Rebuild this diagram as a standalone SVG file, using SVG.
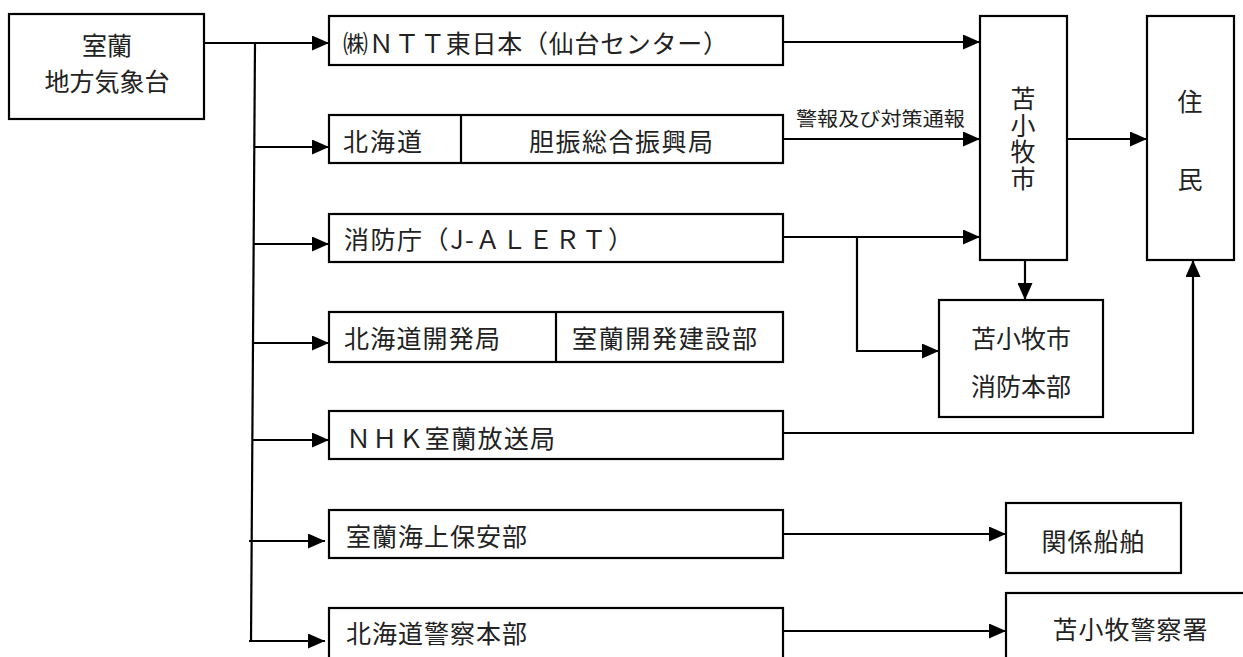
<svg xmlns="http://www.w3.org/2000/svg" width="1243" height="657" viewBox="0 0 1243 657">
<style>
.box{fill:#fff;stroke:#000;stroke-width:2.2}
.ln{fill:none;stroke:#000;stroke-width:2.2}
.t{font-family:"Noto Sans CJK JP","Noto Sans CJK SC",sans-serif;font-size:25px;fill:#222;dominant-baseline:central}
.c{text-anchor:middle}
.s{font-size:19px}
.v{writing-mode:tb;text-anchor:middle;letter-spacing:1.5px}
</style>
<defs>
<marker id="ah" markerUnits="userSpaceOnUse" markerWidth="17" markerHeight="15" refX="17" refY="7.5" orient="auto">
<path d="M0,0 L17,7.5 L0,15 z" fill="#000"/>
</marker>
</defs>
<rect width="1243" height="657" fill="#fff"/>

<g id="connectors">
<path class="ln" d="M204,43 H329" marker-end="url(#ah)"/>
<path class="ln" d="M255,43 L251,641"/>
<path class="ln" d="M254,147 H329" marker-end="url(#ah)"/>
<path class="ln" d="M253,244 H329" marker-end="url(#ah)"/>
<path class="ln" d="M253,343 H329" marker-end="url(#ah)"/>
<path class="ln" d="M252,440 H329" marker-end="url(#ah)"/>
<path class="ln" d="M249,541 H325" marker-end="url(#ah)"/>
<path class="ln" d="M249,641 H325" marker-end="url(#ah)"/>
<path class="ln" d="M783,42 H980" marker-end="url(#ah)"/>
<path class="ln" d="M783,139 H980" marker-end="url(#ah)"/>
<path class="ln" d="M783,237 H980" marker-end="url(#ah)"/>
<path class="ln" d="M857,237 V351 H939" marker-end="url(#ah)"/>
<path class="ln" d="M1067,139 H1147" marker-end="url(#ah)"/>
<path class="ln" d="M1025,260 V300" marker-end="url(#ah)"/>
<path class="ln" d="M783,433 H1193 V260" marker-end="url(#ah)"/>
<path class="ln" d="M783,534 H1006" marker-end="url(#ah)"/>
<path class="ln" d="M783,631 H1006" marker-end="url(#ah)"/>
<text class="t s" x="796" y="117" textLength="169" lengthAdjust="spacingAndGlyphs">警報及び対策通報</text>
</g>

<g id="jma">
<rect class="box" x="9" y="14" width="195" height="105"/>
<text class="t c" x="107" y="44">室蘭</text>
<text class="t c" x="107" y="80">地方気象台</text>
</g>

<g id="ntt">
<rect class="box" x="329" y="16" width="454" height="49"/>
<text class="t" x="343" y="42" textLength="385" lengthAdjust="spacing">㈱ＮＴＴ東日本（仙台センター）</text>
</g>

<g id="hokkaido">
<rect class="box" x="329" y="115" width="454" height="48"/>
<line class="ln" x1="461" y1="115" x2="461" y2="163"/>
<text class="t" x="343" y="140" textLength="79" lengthAdjust="spacing">北海道</text>
<text class="t c" x="621" y="140" textLength="184" lengthAdjust="spacing">胆振総合振興局</text>
</g>

<g id="fdma">
<rect class="box" x="329" y="214" width="454" height="48"/>
<text class="t" x="344" y="238" textLength="289" lengthAdjust="spacing">消防庁（J-ＡＬＥＲＴ）</text>
</g>

<g id="hkd">
<rect class="box" x="329" y="312" width="454" height="50"/>
<line class="ln" x1="556" y1="312" x2="556" y2="362"/>
<text class="t" x="344" y="337" textLength="156" lengthAdjust="spacing">北海道開発局</text>
<text class="t" x="572" y="337" textLength="185" lengthAdjust="spacing">室蘭開発建設部</text>
</g>

<g id="nhk">
<rect class="box" x="329" y="411" width="454" height="48"/>
<text class="t" x="346" y="437" textLength="209" lengthAdjust="spacing">ＮＨＫ室蘭放送局</text>
</g>

<g id="coastguard">
<rect class="box" x="329" y="510" width="454" height="48"/>
<text class="t" x="346" y="535" textLength="181" lengthAdjust="spacing">室蘭海上保安部</text>
</g>

<g id="police">
<rect class="box" x="329" y="608" width="454" height="70"/>
<text class="t" x="346" y="632" textLength="181" lengthAdjust="spacing">北海道警察本部</text>
</g>

<g id="tomakomai">
<rect class="box" x="980" y="16" width="87" height="244"/>
<text class="t v" x="1023" y="139" style="dominant-baseline:auto">苫小牧市</text>
</g>

<g id="residents">
<rect class="box" x="1147" y="16" width="87" height="244"/>
<text class="t c" x="1190" y="100">住</text>
<text class="t c" x="1190" y="178">民</text>
</g>

<g id="firedept">
<rect class="box" x="939" y="300" width="164" height="117"/>
<text class="t c" x="1021" y="337">苫小牧市</text>
<text class="t c" x="1021" y="385">消防本部</text>
</g>

<g id="ships">
<rect class="box" x="1006" y="503" width="175" height="70"/>
<text class="t c" x="1093" y="540" textLength="103" lengthAdjust="spacing">関係船舶</text>
</g>

<g id="policestation">
<rect class="box" x="1006" y="593" width="260" height="90"/>
<text class="t c" x="1130" y="628" textLength="155" lengthAdjust="spacing">苫小牧警察署</text>
</g>
</svg>
